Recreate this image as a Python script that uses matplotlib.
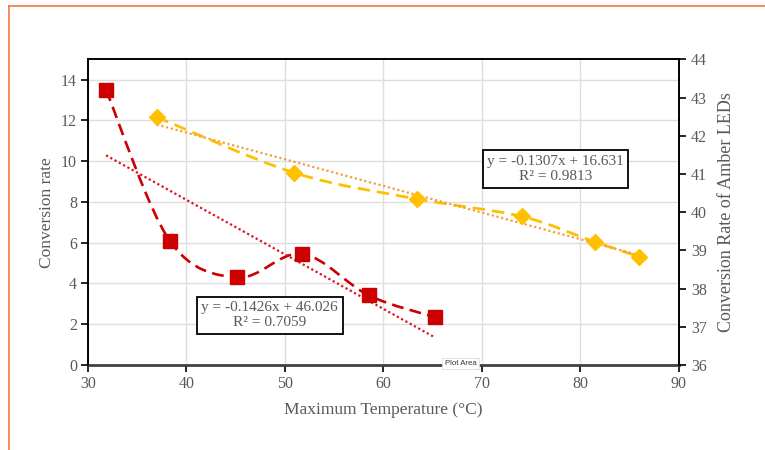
import numpy as np
import matplotlib
matplotlib.use("Agg")
import matplotlib.pyplot as plt
from matplotlib.path import Path
from matplotlib.patches import PathPatch
from matplotlib.lines import Line2D

# ---- data ----
red_x = [31.83, 38.31, 45.18, 51.76, 58.54, 65.26]
red_y = [43.20, 39.25, 38.29, 38.91, 37.82, 37.25]      # right axis
amber_x = [36.97, 50.97, 63.38, 74.07, 81.48, 85.98]
amber_y = [12.17, 9.43, 8.15, 7.29, 6.04, 5.32]          # left axis
red_fit = (-0.1426, 46.026)
amber_fit = (-0.1307, 16.631)
red_label = "y = -0.1426x + 46.026\nR² = 0.7059"
amber_label = "y = -0.1307x + 16.631\nR² = 0.9813"
x_ticks = [30, 40, 50, 60, 70, 80, 90]
left_ticks = [0, 2, 4, 6, 8, 10, 12, 14]
right_ticks = [36, 37, 38, 39, 40, 41, 42, 43, 44]

SERIF = ["Liberation Serif", "DejaVu Serif"]
GRAY = "#595959"
RED = "#cc0000"
AMBER = "#ffc000"


def smooth_path(xs, ys, t=1/6):
    pts = np.column_stack([xs, ys]).astype(float)
    n = len(pts)
    verts = [pts[0]]
    codes = [Path.MOVETO]
    for i in range(n - 1):
        p0 = pts[i - 1] if i > 0 else pts[i]
        p1 = pts[i]
        p2 = pts[i + 1]
        p3 = pts[i + 2] if i + 2 < n else pts[i + 1]
        c1 = p1 + (p2 - p0) * t
        c2 = p2 - (p3 - p1) * t
        verts += [c1, c2, p2]
        codes += [Path.CURVE4] * 3
    return Path(verts, codes)


fig = plt.figure(figsize=(7.65, 4.5), dpi=100)
ax = fig.add_axes([88 / 765, 1 - 365 / 450, (678.5 - 88) / 765, (365 - 59.3) / 450])
ax2 = ax.twinx()

ax.set_xlim(30, 90)
ax.set_ylim(0, 15)
ax2.set_ylim(36, 44)
ax.set_xticks(x_ticks)
ax.set_yticks(left_ticks)
ax2.set_yticks(right_ticks)

ax.grid(True, color="#dedede", linewidth=1.0)
ax.set_axisbelow(True)

# amber series (left axis)
ax.add_patch(PathPatch(smooth_path(amber_x, amber_y), fill=False, edgecolor=AMBER,
                       linewidth=2.0, linestyle=(0, (4.5, 2.5)), capstyle="butt", zorder=3))
xf = np.array([amber_x[0], amber_x[-1]])
ax.plot(xf, amber_fit[0] * xf + amber_fit[1], color="#f0a040", linewidth=1.6,
        linestyle=(0, (1, 1.2)), zorder=3)
ax.plot(amber_x, amber_y, linestyle="none", marker="D", markersize=8.5,
        color=AMBER, markeredgecolor=AMBER, zorder=4)

# red series (right axis)
ax2.add_patch(PathPatch(smooth_path(red_x, red_y), fill=False, edgecolor=RED,
                        linewidth=1.9, linestyle=(0, (4.5, 2.4)), capstyle="butt", zorder=3))
xr = np.array([red_x[0], red_x[-1]])
ax2.plot(xr, red_fit[0] * xr + red_fit[1], color="#dd1122", linewidth=1.6,
         linestyle=(0, (1, 1.2)), zorder=3)
ax2.plot(red_x, red_y, linestyle="none", marker="s", markersize=10.5,
         color=RED, markeredgecolor=RED, zorder=4)

# annotation boxes
box = dict(boxstyle="square,pad=0.3", facecolor="white", edgecolor="black", linewidth=1.3)
ax.text(48.45, 2.43, red_label, ha="center", va="center", family=SERIF, fontsize=11,
        color=GRAY, bbox=box, zorder=6, linespacing=1.2)
ax.text(77.5, 9.62, amber_label, ha="center", va="center", family=SERIF, fontsize=11,
        color=GRAY, bbox=box, zorder=6, linespacing=1.2)

# spines & ticks
for a in (ax, ax2):
    for s in a.spines.values():
        s.set_color("black")
        s.set_linewidth(1.2)
ax.spines["bottom"].set_color("#404040")
ax.spines["bottom"].set_linewidth(2.0)
ax2.spines["bottom"].set_visible(False)

ax.tick_params(axis="both", direction="out", length=5, width=1.2, color="black",
               labelcolor=GRAY, labelsize=11.5, pad=3)
ax2.tick_params(axis="y", direction="out", length=5, width=1.2, color="black",
                labelcolor=GRAY, labelsize=11.5, pad=4)
for lab in ax.get_xticklabels() + ax.get_yticklabels() + ax2.get_yticklabels():
    lab.set_family(SERIF)

ax.set_xlabel("Maximum Temperature (°C)", family=SERIF, fontsize=12.5, color=GRAY, labelpad=7)
ax.set_ylabel("Conversion rate", family=SERIF, fontsize=12.5, color=GRAY, labelpad=4)
ax2.set_ylabel("Conversion Rate of Amber LEDs", family=SERIF, fontsize=13, color=GRAY, labelpad=8)

# "Plot Area" tooltip
fig.text(460.5 / 765, 1 - 363.5 / 450, "Plot Area", ha="center", va="center",
         family=["Liberation Sans", "DejaVu Sans"], fontsize=5.6, color="#333333",
         bbox=dict(boxstyle="square,pad=0.3", facecolor="white", edgecolor="#dddddd", linewidth=0.6),
         zorder=10)

# orange page frame
fig.add_artist(Line2D([9.3 / 765, 1.0], [1 - 5.5 / 450] * 2, color="#f07a45", linewidth=1.2,
                      transform=fig.transFigure))
fig.add_artist(Line2D([9.3 / 765] * 2, [0.0, 1 - 5.5 / 450], color="#f07a45", linewidth=1.2,
                      transform=fig.transFigure))

fig.savefig("out.png", dpi=100, facecolor="white")
